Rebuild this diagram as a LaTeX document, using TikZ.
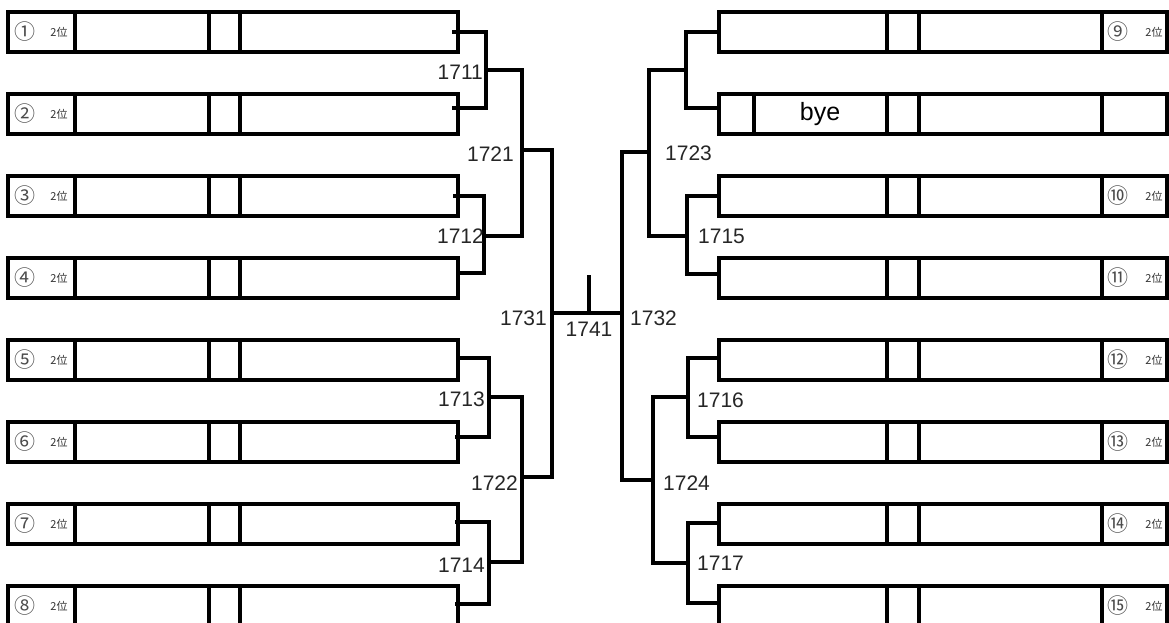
\documentclass[tikz,border=0pt]{standalone}
\usepackage{fontspec}
\setmainfont{Liberation Sans}
\newfontfamily\jp{Noto Sans CJK JP}
\begin{document}
\begin{tikzpicture}[x=1pt,y=-1pt,
  lbox/.style={draw, line width=3.2pt, rectangle, inner sep=0pt, outer sep=0pt,
    minimum width=450pt, minimum height=40pt, anchor=north west},
  rbox/.style={lbox, minimum width=448pt},
  div/.style={line width=3.2pt},
  conn/.style={line width=3.2pt},
  num/.style={font=\jp\fontsize{21}{21}\selectfont, inner sep=0pt, text=black!70},
  rank/.style={font=\jp\fontsize{11}{11}\selectfont, inner sep=0pt, text=black!80},
  lab/.style={font=\fontsize{21}{21}\selectfont, inner sep=0pt, text=black!85}]
\useasboundingbox (0,0) rectangle (1169,623);
% left boxes
\foreach \i/\t/\c in {1/12/①,2/94/②,3/176/③,4/258/④,5/340/⑤,6/422/⑥,7/504/⑦,8/586/⑧}{
  \node[lbox] (L\i) at (8,\t) {};
  \draw[div] ([xshift=67pt]L\i.north west) -- ([xshift=67pt]L\i.south west);
  \draw[div] ([xshift=201pt]L\i.north west) -- ([xshift=201pt]L\i.south west);
  \draw[div] ([xshift=232pt]L\i.north west) -- ([xshift=232pt]L\i.south west);
  \node[num] (nL\i) at ([xshift=16.5pt]L\i.west) {\c};
  \node[rank] (rL\i) at ([xshift=51pt]L\i.west) {2位};
}
% right boxes
\foreach \i/\t in {1/12,2/94,3/176,4/258,5/340,6/422,7/504,8/586}{
  \node[rbox] (R\i) at (719,\t) {};
  \draw[div] ([xshift=168pt]R\i.north west) -- ([xshift=168pt]R\i.south west);
  \draw[div] ([xshift=200pt]R\i.north west) -- ([xshift=200pt]R\i.south west);
  \draw[div] ([xshift=383pt]R\i.north west) -- ([xshift=383pt]R\i.south west);
}
\draw[div] ([xshift=35pt]R2.north west) -- ([xshift=35pt]R2.south west);
\node[font=\fontsize{25}{25}\selectfont, inner sep=0pt] (bye) at ([xshift=101pt]R2.west) {bye};
\foreach \i/\c in {1/⑨,3/⑩,4/⑪,5/⑫,6/⑬,7/⑭,8/⑮}{
  \node[num] (nR\i) at ([xshift=399pt]R\i.west) {\c};
  \node[rank] (rR\i) at ([xshift=435pt]R\i.west) {2位};
}
% junction coordinates
\coordinate (a1711) at (486,70);
\coordinate (a1712) at (484,236);
\coordinate (a1713) at (489,397);
\coordinate (a1714) at (489,562);
\coordinate (b1721) at (522,150);
\coordinate (b1722) at (522,477);
\coordinate (c1731) at (552,313);
\coordinate (c1732) at (622,313);
\coordinate (f1741) at (589,275);
\coordinate (aR1) at (686,70);
\coordinate (a1715) at (687,236);
\coordinate (a1716) at (688,397);
\coordinate (a1717) at (688,563);
\coordinate (b1723) at (649,152);
\coordinate (b1724) at (653,480);
% left brackets
\draw[conn] ([xshift=-6pt]L1.east) -| (a1711) |- ([xshift=-6pt,yshift=6pt]L2.east);
\draw[conn] ([xshift=-5pt]L3.east) -| (a1712) |- ([yshift=5pt]L4.east);
\draw[conn] ([yshift=2pt]L5.east) -| (a1713) |- ([xshift=-3pt,yshift=5pt]L6.east);
\draw[conn] ([xshift=-3pt,yshift=2pt]L7.east) -| (a1714) |- ([xshift=-3pt,yshift=2pt]L8.east);
\draw[conn] (a1711) -| (b1721) |- (a1712);
\draw[conn] (a1713) -| (b1722) |- (a1714);
\draw[conn] (b1721) -| (c1731) |- (b1722);
\draw[conn] (c1731) -- (c1732);
\draw[conn] (f1741) -- (f1741 |- c1731);
% right brackets
\draw[conn] (R1.west) -| (aR1) |- ([yshift=6pt]R2.west);
\draw[conn] (R3.west) -| (a1715) |- ([yshift=4pt]R4.west);
\draw[conn] ([yshift=2pt]R5.west) -| (a1716) |- ([yshift=5pt]R6.west);
\draw[conn] ([yshift=1pt]R7.west) -| (a1717) |- ([yshift=3pt]R8.west);
\draw[conn] (aR1) -| (b1723) |- (a1715);
\draw[conn] (a1716) -| (b1724) |- (a1717);
\draw[conn] (b1723) -| (c1732) |- (b1724);
% labels
\node[lab, anchor=east] (t1711) at (483,72) {1711};
\node[lab, anchor=east] (t1712) at (484,236) {1712};
\node[lab, anchor=east] (t1713) at (485,399) {1713};
\node[lab, anchor=east] (t1714) at (485,565) {1714};
\node[lab, anchor=east] (t1721) at (514,154) {1721};
\node[lab, anchor=east] (t1722) at (518,483) {1722};
\node[lab, anchor=east] (t1731) at (547,318) {1731};
\node[lab] (t1741) at (589,329) {1741};
\node[lab, anchor=west] (t1732) at (630,318) {1732};
\node[lab, anchor=west] (t1723) at (665,153) {1723};
\node[lab, anchor=west] (t1715) at (698,236) {1715};
\node[lab, anchor=west] (t1716) at (697,400) {1716};
\node[lab, anchor=west] (t1724) at (663,483) {1724};
\node[lab, anchor=west] (t1717) at (697,563) {1717};
\end{tikzpicture}
\end{document}
